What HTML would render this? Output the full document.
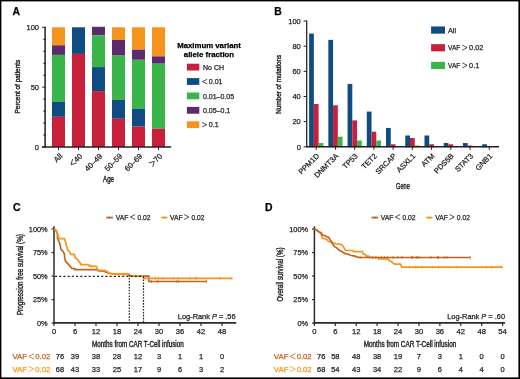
<!DOCTYPE html>
<html><head><meta charset="utf-8"><style>
html,body{margin:0;padding:0;background:#fff;}
body{width:520px;height:379px;overflow:hidden;}
svg{display:block;font-family:"Liberation Sans",sans-serif;will-change:transform;}
</style></head><body>
<svg width="520" height="379" viewBox="0 0 520 379">
<rect x="0" y="0" width="520" height="379" fill="#fff"/>
<text x="12.60" y="14.70" font-size="10.4" text-anchor="start" fill="#000" font-weight="bold" stroke="#000" stroke-width="0.25">A</text>
<rect x="52.00" y="27.30" width="13.00" height="18.00" fill="#F7941E"/>
<rect x="52.00" y="45.30" width="13.00" height="9.60" fill="#5C2A6E"/>
<rect x="52.00" y="54.90" width="13.00" height="47.00" fill="#3AB54A"/>
<rect x="52.00" y="101.90" width="13.00" height="14.90" fill="#0F4C81"/>
<rect x="52.00" y="116.80" width="13.00" height="30.20" fill="#C8203A"/>
<rect x="72.00" y="27.30" width="13.00" height="26.60" fill="#0F4C81"/>
<rect x="72.00" y="53.90" width="13.00" height="93.10" fill="#C8203A"/>
<rect x="92.00" y="26.80" width="13.00" height="8.50" fill="#5C2A6E"/>
<rect x="92.00" y="35.30" width="13.00" height="31.80" fill="#3AB54A"/>
<rect x="92.00" y="67.10" width="13.00" height="24.00" fill="#0F4C81"/>
<rect x="92.00" y="91.10" width="13.00" height="55.90" fill="#C8203A"/>
<rect x="112.00" y="27.30" width="13.00" height="12.70" fill="#F7941E"/>
<rect x="112.00" y="40.00" width="13.00" height="15.60" fill="#5C2A6E"/>
<rect x="112.00" y="55.60" width="13.00" height="44.30" fill="#3AB54A"/>
<rect x="112.00" y="99.90" width="13.00" height="18.90" fill="#0F4C81"/>
<rect x="112.00" y="118.80" width="13.00" height="28.20" fill="#C8203A"/>
<rect x="132.00" y="27.30" width="13.00" height="22.40" fill="#F7941E"/>
<rect x="132.00" y="49.70" width="13.00" height="10.10" fill="#5C2A6E"/>
<rect x="132.00" y="59.80" width="13.00" height="49.00" fill="#3AB54A"/>
<rect x="132.00" y="108.80" width="13.00" height="17.80" fill="#0F4C81"/>
<rect x="132.00" y="126.60" width="13.00" height="20.40" fill="#C8203A"/>
<rect x="152.00" y="27.30" width="13.00" height="29.10" fill="#F7941E"/>
<rect x="152.00" y="56.40" width="13.00" height="7.30" fill="#5C2A6E"/>
<rect x="152.00" y="63.70" width="13.00" height="65.10" fill="#3AB54A"/>
<rect x="152.00" y="128.80" width="13.00" height="18.20" fill="#C8203A"/>
<line x1="45.10" y1="26.80" x2="45.10" y2="147.60" stroke="#231F20" stroke-width="1.5"/>
<line x1="42.00" y1="146.95" x2="171.20" y2="146.95" stroke="#231F20" stroke-width="1.6"/>
<line x1="42.20" y1="147.00" x2="45.20" y2="147.00" stroke="#231F20" stroke-width="1"/>
<line x1="43.20" y1="135.03" x2="45.20" y2="135.03" stroke="#231F20" stroke-width="1"/>
<line x1="43.20" y1="123.06" x2="45.20" y2="123.06" stroke="#231F20" stroke-width="1"/>
<line x1="43.20" y1="111.09" x2="45.20" y2="111.09" stroke="#231F20" stroke-width="1"/>
<line x1="43.20" y1="99.12" x2="45.20" y2="99.12" stroke="#231F20" stroke-width="1"/>
<line x1="42.20" y1="87.15" x2="45.20" y2="87.15" stroke="#231F20" stroke-width="1"/>
<line x1="43.20" y1="75.18" x2="45.20" y2="75.18" stroke="#231F20" stroke-width="1"/>
<line x1="43.20" y1="63.21" x2="45.20" y2="63.21" stroke="#231F20" stroke-width="1"/>
<line x1="43.20" y1="51.24" x2="45.20" y2="51.24" stroke="#231F20" stroke-width="1"/>
<line x1="43.20" y1="39.27" x2="45.20" y2="39.27" stroke="#231F20" stroke-width="1"/>
<line x1="42.20" y1="27.30" x2="45.20" y2="27.30" stroke="#231F20" stroke-width="1"/>
<text x="39.00" y="30.00" font-size="7.5" text-anchor="end" fill="#231F20" stroke="#231F20" stroke-width="0.25">100</text>
<text x="39.00" y="89.85" font-size="7.5" text-anchor="end" fill="#231F20" stroke="#231F20" stroke-width="0.25">50</text>
<text x="39.00" y="149.70" font-size="7.5" text-anchor="end" fill="#231F20" stroke="#231F20" stroke-width="0.25">0</text>
<line x1="58.50" y1="147.00" x2="58.50" y2="150.00" stroke="#231F20" stroke-width="1"/>
<text x="62.90" y="156.60" font-size="7.7" text-anchor="end" fill="#231F20" transform="rotate(-45 62.90 156.60)" stroke="#231F20" stroke-width="0.25">All</text>
<line x1="78.50" y1="147.00" x2="78.50" y2="150.00" stroke="#231F20" stroke-width="1"/>
<text x="82.90" y="156.60" font-size="7.7" text-anchor="end" fill="#231F20" transform="rotate(-45 82.90 156.60)" stroke="#231F20" stroke-width="0.25">40</text>
<g transform="rotate(-45 82.90 156.60)">
<path d="M73.44,151.30 L68.84,153.90 L73.44,156.50" fill="none" stroke="#231F20" stroke-width="0.8" stroke-linejoin="round" stroke-linecap="round"/>
</g>
<line x1="98.50" y1="147.00" x2="98.50" y2="150.00" stroke="#231F20" stroke-width="1"/>
<text x="102.90" y="156.60" font-size="7.7" text-anchor="end" fill="#231F20" transform="rotate(-45 102.90 156.60)" stroke="#231F20" stroke-width="0.25">40–49</text>
<line x1="118.50" y1="147.00" x2="118.50" y2="150.00" stroke="#231F20" stroke-width="1"/>
<text x="122.90" y="156.60" font-size="7.7" text-anchor="end" fill="#231F20" transform="rotate(-45 122.90 156.60)" stroke="#231F20" stroke-width="0.25">50–59</text>
<line x1="138.50" y1="147.00" x2="138.50" y2="150.00" stroke="#231F20" stroke-width="1"/>
<text x="142.90" y="156.60" font-size="7.7" text-anchor="end" fill="#231F20" transform="rotate(-45 142.90 156.60)" stroke="#231F20" stroke-width="0.25">60–69</text>
<line x1="158.50" y1="147.00" x2="158.50" y2="150.00" stroke="#231F20" stroke-width="1"/>
<text x="162.90" y="156.60" font-size="7.7" text-anchor="end" fill="#231F20" transform="rotate(-45 162.90 156.60)" stroke="#231F20" stroke-width="0.25">70</text>
<g transform="rotate(-45 162.90 156.60)">
<path d="M148.84,151.30 L153.44,153.90 L148.84,156.50" fill="none" stroke="#231F20" stroke-width="0.8" stroke-linejoin="round" stroke-linecap="round"/>
</g>
<text x="108.50" y="181.50" font-size="8.6" text-anchor="middle" fill="#231F20" textLength="10.9" lengthAdjust="spacingAndGlyphs" stroke="#231F20" stroke-width="0.4">Age</text>
<text x="20.00" y="86.60" font-size="7.8" text-anchor="middle" fill="#231F20" textLength="53.7" lengthAdjust="spacingAndGlyphs" transform="rotate(-90 20.00 86.60)" stroke="#231F20" stroke-width="0.4">Percent of patients</text>
<text x="209.00" y="48.00" font-size="7.8" text-anchor="middle" fill="#000" font-weight="bold" stroke="#000" stroke-width="0.25">Maximum variant</text>
<text x="209.00" y="56.70" font-size="7.8" text-anchor="middle" fill="#000" font-weight="bold" stroke="#000" stroke-width="0.25">allele fraction</text>
<rect x="186.90" y="63.70" width="12.40" height="6.80" fill="#C8203A"/>
<text x="203.00" y="69.70" font-size="7.0" text-anchor="start" fill="#231F20" stroke="#231F20" stroke-width="0.25">No CH</text>
<rect x="186.90" y="78.10" width="12.40" height="6.80" fill="#0F4C81"/>
<path d="M206.80,79.50 L202.40,81.55 L206.80,83.60" fill="none" stroke="#231F20" stroke-width="0.8" stroke-linejoin="round" stroke-linecap="round"/>
<text x="208.80" y="84.00" font-size="7.0" text-anchor="start" fill="#231F20" stroke="#231F20" stroke-width="0.25">0.01</text>
<rect x="186.90" y="92.50" width="12.40" height="6.80" fill="#3AB54A"/>
<text x="203.00" y="98.50" font-size="7.0" text-anchor="start" fill="#231F20" stroke="#231F20" stroke-width="0.25">0.01–0.05</text>
<rect x="186.90" y="106.90" width="12.40" height="6.80" fill="#5C2A6E"/>
<text x="203.00" y="112.90" font-size="7.0" text-anchor="start" fill="#231F20" stroke="#231F20" stroke-width="0.25">0.05–0.1</text>
<rect x="186.90" y="121.30" width="12.40" height="6.80" fill="#F7941E"/>
<path d="M202.40,122.70 L206.80,124.75 L202.40,126.80" fill="none" stroke="#231F20" stroke-width="0.8" stroke-linejoin="round" stroke-linecap="round"/>
<text x="208.80" y="127.20" font-size="7.0" text-anchor="start" fill="#231F20" stroke="#231F20" stroke-width="0.25">0.1</text>
<text x="274.20" y="14.90" font-size="10.4" text-anchor="start" fill="#000" font-weight="bold" stroke="#000" stroke-width="0.25">B</text>
<rect x="309.10" y="33.58" width="4.75" height="113.62" fill="#0F4C81"/>
<rect x="313.85" y="104.03" width="4.75" height="43.17" fill="#C8203A"/>
<rect x="318.60" y="143.03" width="4.75" height="4.17" fill="#3AB54A"/>
<rect x="328.33" y="39.87" width="4.75" height="107.33" fill="#0F4C81"/>
<rect x="333.08" y="105.29" width="4.75" height="41.91" fill="#C8203A"/>
<rect x="337.83" y="136.74" width="4.75" height="10.46" fill="#3AB54A"/>
<rect x="347.56" y="83.90" width="4.75" height="63.30" fill="#0F4C81"/>
<rect x="352.31" y="120.38" width="4.75" height="26.82" fill="#C8203A"/>
<rect x="357.06" y="140.51" width="4.75" height="6.69" fill="#3AB54A"/>
<rect x="366.79" y="111.58" width="4.75" height="35.62" fill="#0F4C81"/>
<rect x="371.54" y="131.70" width="4.75" height="15.50" fill="#C8203A"/>
<rect x="376.29" y="140.51" width="4.75" height="6.69" fill="#3AB54A"/>
<rect x="386.02" y="127.93" width="4.75" height="19.27" fill="#0F4C81"/>
<rect x="390.77" y="144.28" width="4.75" height="2.92" fill="#C8203A"/>
<rect x="405.25" y="135.48" width="4.75" height="11.72" fill="#0F4C81"/>
<rect x="410.00" y="137.99" width="4.75" height="9.21" fill="#C8203A"/>
<rect x="414.75" y="145.54" width="4.75" height="1.66" fill="#3AB54A"/>
<rect x="424.48" y="135.48" width="4.75" height="11.72" fill="#0F4C81"/>
<rect x="429.23" y="144.28" width="4.75" height="2.92" fill="#C8203A"/>
<rect x="443.71" y="143.03" width="4.75" height="4.17" fill="#0F4C81"/>
<rect x="448.46" y="144.28" width="4.75" height="2.92" fill="#C8203A"/>
<rect x="462.94" y="143.03" width="4.75" height="4.17" fill="#0F4C81"/>
<rect x="467.69" y="145.54" width="4.75" height="1.66" fill="#C8203A"/>
<rect x="482.17" y="144.28" width="4.75" height="2.92" fill="#0F4C81"/>
<line x1="306.70" y1="20.50" x2="306.70" y2="147.30" stroke="#231F20" stroke-width="1.25"/>
<line x1="306.20" y1="146.70" x2="499.00" y2="146.70" stroke="#231F20" stroke-width="1.6"/>
<line x1="303.60" y1="146.80" x2="306.70" y2="146.80" stroke="#231F20" stroke-width="1"/>
<text x="300.80" y="149.50" font-size="7.5" text-anchor="end" fill="#231F20" stroke="#231F20" stroke-width="0.25">0</text>
<line x1="303.60" y1="121.64" x2="306.70" y2="121.64" stroke="#231F20" stroke-width="1"/>
<text x="300.80" y="124.34" font-size="7.5" text-anchor="end" fill="#231F20" stroke="#231F20" stroke-width="0.25">20</text>
<line x1="303.60" y1="96.48" x2="306.70" y2="96.48" stroke="#231F20" stroke-width="1"/>
<text x="300.80" y="99.18" font-size="7.5" text-anchor="end" fill="#231F20" stroke="#231F20" stroke-width="0.25">40</text>
<line x1="303.60" y1="71.32" x2="306.70" y2="71.32" stroke="#231F20" stroke-width="1"/>
<text x="300.80" y="74.02" font-size="7.5" text-anchor="end" fill="#231F20" stroke="#231F20" stroke-width="0.25">60</text>
<line x1="303.60" y1="46.16" x2="306.70" y2="46.16" stroke="#231F20" stroke-width="1"/>
<text x="300.80" y="48.86" font-size="7.5" text-anchor="end" fill="#231F20" stroke="#231F20" stroke-width="0.25">80</text>
<line x1="303.60" y1="21.00" x2="306.70" y2="21.00" stroke="#231F20" stroke-width="1"/>
<text x="300.80" y="23.70" font-size="7.5" text-anchor="end" fill="#231F20" stroke="#231F20" stroke-width="0.25">100</text>
<line x1="316.20" y1="146.80" x2="316.20" y2="149.80" stroke="#231F20" stroke-width="1"/>
<text x="319.80" y="156.50" font-size="7.5" text-anchor="end" fill="#231F20" transform="rotate(-45 319.80 156.50)" stroke="#231F20" stroke-width="0.25">PPM1D</text>
<line x1="335.43" y1="146.80" x2="335.43" y2="149.80" stroke="#231F20" stroke-width="1"/>
<text x="339.03" y="156.50" font-size="7.5" text-anchor="end" fill="#231F20" transform="rotate(-45 339.03 156.50)" stroke="#231F20" stroke-width="0.25">DNMT3A</text>
<line x1="354.66" y1="146.80" x2="354.66" y2="149.80" stroke="#231F20" stroke-width="1"/>
<text x="358.26" y="156.50" font-size="7.5" text-anchor="end" fill="#231F20" transform="rotate(-45 358.26 156.50)" stroke="#231F20" stroke-width="0.25">TP53</text>
<line x1="373.89" y1="146.80" x2="373.89" y2="149.80" stroke="#231F20" stroke-width="1"/>
<text x="377.49" y="156.50" font-size="7.5" text-anchor="end" fill="#231F20" transform="rotate(-45 377.49 156.50)" stroke="#231F20" stroke-width="0.25">TET2</text>
<line x1="393.12" y1="146.80" x2="393.12" y2="149.80" stroke="#231F20" stroke-width="1"/>
<text x="396.72" y="156.50" font-size="7.5" text-anchor="end" fill="#231F20" transform="rotate(-45 396.72 156.50)" stroke="#231F20" stroke-width="0.25">SRCAP</text>
<line x1="412.35" y1="146.80" x2="412.35" y2="149.80" stroke="#231F20" stroke-width="1"/>
<text x="415.95" y="156.50" font-size="7.5" text-anchor="end" fill="#231F20" transform="rotate(-45 415.95 156.50)" stroke="#231F20" stroke-width="0.25">ASXL1</text>
<line x1="431.58" y1="146.80" x2="431.58" y2="149.80" stroke="#231F20" stroke-width="1"/>
<text x="435.18" y="156.50" font-size="7.5" text-anchor="end" fill="#231F20" transform="rotate(-45 435.18 156.50)" stroke="#231F20" stroke-width="0.25">ATM</text>
<line x1="450.81" y1="146.80" x2="450.81" y2="149.80" stroke="#231F20" stroke-width="1"/>
<text x="454.41" y="156.50" font-size="7.5" text-anchor="end" fill="#231F20" transform="rotate(-45 454.41 156.50)" stroke="#231F20" stroke-width="0.25">PDS5B</text>
<line x1="470.04" y1="146.80" x2="470.04" y2="149.80" stroke="#231F20" stroke-width="1"/>
<text x="473.64" y="156.50" font-size="7.5" text-anchor="end" fill="#231F20" transform="rotate(-45 473.64 156.50)" stroke="#231F20" stroke-width="0.25">STAT3</text>
<line x1="489.27" y1="146.80" x2="489.27" y2="149.80" stroke="#231F20" stroke-width="1"/>
<text x="492.87" y="156.50" font-size="7.5" text-anchor="end" fill="#231F20" transform="rotate(-45 492.87 156.50)" stroke="#231F20" stroke-width="0.25">GNB1</text>
<text x="402.90" y="189.40" font-size="8.6" text-anchor="middle" fill="#231F20" textLength="13.8" lengthAdjust="spacingAndGlyphs" stroke="#231F20" stroke-width="0.4">Gene</text>
<text x="280.90" y="84.30" font-size="7.8" text-anchor="middle" fill="#231F20" textLength="59" lengthAdjust="spacingAndGlyphs" transform="rotate(-90 280.90 84.30)" stroke="#231F20" stroke-width="0.4">Number of mutations</text>
<rect x="431.10" y="26.45" width="13.90" height="7.20" fill="#0F4C81"/>
<text x="448.00" y="32.75" font-size="7.3" text-anchor="start" fill="#231F20" stroke="#231F20" stroke-width="0.25">All</text>
<rect x="431.10" y="44.15" width="13.90" height="7.20" fill="#C8203A"/>
<text x="448.00" y="50.45" font-size="7.3" text-anchor="start" fill="#231F20" textLength="12.3" lengthAdjust="spacingAndGlyphs" stroke="#231F20" stroke-width="0.25">VAF</text>
<path d="M462.60,45.25 L467.00,47.65 L462.60,50.05" fill="none" stroke="#231F20" stroke-width="0.8" stroke-linejoin="round" stroke-linecap="round"/>
<text x="469.10" y="50.45" font-size="7.3" text-anchor="start" fill="#231F20" stroke="#231F20" stroke-width="0.25">0.02</text>
<rect x="431.10" y="61.85" width="13.90" height="7.20" fill="#3AB54A"/>
<text x="448.00" y="68.15" font-size="7.3" text-anchor="start" fill="#231F20" textLength="12.3" lengthAdjust="spacingAndGlyphs" stroke="#231F20" stroke-width="0.25">VAF</text>
<path d="M462.60,62.95 L467.00,65.35 L462.60,67.75" fill="none" stroke="#231F20" stroke-width="0.8" stroke-linejoin="round" stroke-linecap="round"/>
<text x="469.10" y="68.15" font-size="7.3" text-anchor="start" fill="#231F20" stroke="#231F20" stroke-width="0.25">0.1</text>
<text x="12.90" y="211.30" font-size="10.4" text-anchor="start" fill="#000" font-weight="bold" stroke="#000" stroke-width="0.25">C</text>
<line x1="54.00" y1="226.30" x2="54.00" y2="323.60" stroke="#2a2a2a" stroke-width="1.5"/>
<line x1="53.40" y1="322.80" x2="236.20" y2="322.80" stroke="#2a2a2a" stroke-width="1.8"/>
<line x1="51.60" y1="229.00" x2="54.00" y2="229.00" stroke="#2a2a2a" stroke-width="1.2"/>
<text x="47.70" y="231.60" font-size="7.4" text-anchor="end" fill="#231F20" stroke="#231F20" stroke-width="0.25">100%</text>
<line x1="51.60" y1="252.53" x2="54.00" y2="252.53" stroke="#2a2a2a" stroke-width="1.2"/>
<text x="47.70" y="255.12" font-size="7.4" text-anchor="end" fill="#231F20" stroke="#231F20" stroke-width="0.25">75%</text>
<line x1="51.60" y1="276.05" x2="54.00" y2="276.05" stroke="#2a2a2a" stroke-width="1.2"/>
<text x="47.70" y="278.65" font-size="7.4" text-anchor="end" fill="#231F20" stroke="#231F20" stroke-width="0.25">50%</text>
<line x1="51.60" y1="299.58" x2="54.00" y2="299.58" stroke="#2a2a2a" stroke-width="1.2"/>
<text x="47.70" y="302.18" font-size="7.4" text-anchor="end" fill="#231F20" stroke="#231F20" stroke-width="0.25">25%</text>
<line x1="51.60" y1="323.10" x2="54.00" y2="323.10" stroke="#2a2a2a" stroke-width="1.2"/>
<text x="47.70" y="325.70" font-size="7.4" text-anchor="end" fill="#231F20" stroke="#231F20" stroke-width="0.25">0%</text>
<line x1="54.00" y1="323.10" x2="54.00" y2="326.00" stroke="#2a2a2a" stroke-width="1.2"/>
<text x="54.00" y="334.40" font-size="7.6" text-anchor="middle" fill="#231F20" stroke="#231F20" stroke-width="0.25">0</text>
<line x1="75.00" y1="323.10" x2="75.00" y2="326.00" stroke="#2a2a2a" stroke-width="1.2"/>
<text x="75.00" y="334.40" font-size="7.6" text-anchor="middle" fill="#231F20" stroke="#231F20" stroke-width="0.25">6</text>
<line x1="96.00" y1="323.10" x2="96.00" y2="326.00" stroke="#2a2a2a" stroke-width="1.2"/>
<text x="96.00" y="334.40" font-size="7.6" text-anchor="middle" fill="#231F20" stroke="#231F20" stroke-width="0.25">12</text>
<line x1="117.00" y1="323.10" x2="117.00" y2="326.00" stroke="#2a2a2a" stroke-width="1.2"/>
<text x="117.00" y="334.40" font-size="7.6" text-anchor="middle" fill="#231F20" stroke="#231F20" stroke-width="0.25">18</text>
<line x1="138.00" y1="323.10" x2="138.00" y2="326.00" stroke="#2a2a2a" stroke-width="1.2"/>
<text x="138.00" y="334.40" font-size="7.6" text-anchor="middle" fill="#231F20" stroke="#231F20" stroke-width="0.25">24</text>
<line x1="159.00" y1="323.10" x2="159.00" y2="326.00" stroke="#2a2a2a" stroke-width="1.2"/>
<text x="159.00" y="334.40" font-size="7.6" text-anchor="middle" fill="#231F20" stroke="#231F20" stroke-width="0.25">30</text>
<line x1="180.00" y1="323.10" x2="180.00" y2="326.00" stroke="#2a2a2a" stroke-width="1.2"/>
<text x="180.00" y="334.40" font-size="7.6" text-anchor="middle" fill="#231F20" stroke="#231F20" stroke-width="0.25">36</text>
<line x1="201.00" y1="323.10" x2="201.00" y2="326.00" stroke="#2a2a2a" stroke-width="1.2"/>
<text x="201.00" y="334.40" font-size="7.6" text-anchor="middle" fill="#231F20" stroke="#231F20" stroke-width="0.25">42</text>
<line x1="222.00" y1="323.10" x2="222.00" y2="326.00" stroke="#2a2a2a" stroke-width="1.2"/>
<text x="222.00" y="334.40" font-size="7.6" text-anchor="middle" fill="#231F20" stroke="#231F20" stroke-width="0.25">48</text>
<text x="22.60" y="274.60" font-size="8.5" text-anchor="middle" fill="#231F20" textLength="81" lengthAdjust="spacingAndGlyphs" transform="rotate(-90 22.60 274.60)" stroke="#231F20" stroke-width="0.4">Progression free survival (%)</text>
<text x="92.10" y="346.50" font-size="8.4" text-anchor="start" fill="#231F20" textLength="91.7" lengthAdjust="spacingAndGlyphs" stroke="#231F20" stroke-width="0.4">Months from CAR T-Cell infusion</text>
<text x="235.60" y="319.00" font-size="7.4" text-anchor="end" fill="#231F20" stroke="#231F20" stroke-width="0.25">Log-Rank <tspan font-style="italic">P</tspan> = .56</text>
<line x1="106.30" y1="217.60" x2="112.90" y2="217.60" stroke="#C0651E" stroke-width="1.8"/>
<line x1="109.60" y1="216.40" x2="109.60" y2="218.80" stroke="#C0651E" stroke-width="0.8"/>
<text x="115.80" y="219.60" font-size="7.3" text-anchor="start" fill="#231F20" textLength="12.7" lengthAdjust="spacingAndGlyphs" stroke="#231F20" stroke-width="0.25">VAF</text>
<path d="M134.80,214.70 L130.40,217.00 L134.80,219.30" fill="none" stroke="#231F20" stroke-width="0.8" stroke-linejoin="round" stroke-linecap="round"/>
<text x="137.40" y="219.60" font-size="7.3" text-anchor="start" fill="#231F20" textLength="13.1" lengthAdjust="spacingAndGlyphs" stroke="#231F20" stroke-width="0.25">0.02</text>
<line x1="161.20" y1="217.60" x2="167.40" y2="217.60" stroke="#F7941E" stroke-width="1.8"/>
<line x1="164.30" y1="216.40" x2="164.30" y2="218.80" stroke="#F7941E" stroke-width="0.8"/>
<text x="169.90" y="219.60" font-size="7.3" text-anchor="start" fill="#231F20" textLength="12.7" lengthAdjust="spacingAndGlyphs" stroke="#231F20" stroke-width="0.25">VAF</text>
<path d="M184.50,214.70 L188.90,217.00 L184.50,219.30" fill="none" stroke="#231F20" stroke-width="0.8" stroke-linejoin="round" stroke-linecap="round"/>
<text x="191.50" y="219.60" font-size="7.3" text-anchor="start" fill="#231F20" textLength="13.1" lengthAdjust="spacingAndGlyphs" stroke="#231F20" stroke-width="0.25">0.02</text>
<path d="M54.00,229.00 L56.80,231.50 L57.50,233.90 L57.50,237.90 L58.30,240.30 L59.10,241.80 L59.90,243.80 L60.30,245.80 L60.70,248.20 L61.10,249.40 L62.30,250.50 L63.50,252.10 L64.30,253.70 L64.80,258.70 L65.50,261.10 L67.10,263.10 L68.70,264.60 L70.30,266.60 L71.90,268.20 L74.60,268.90 L75.80,269.60 L96.80,269.60 L98.00,270.60 L99.60,271.00 L104.00,271.20 L108.00,273.00 L114.00,274.00 L129.00,274.40 L131.00,276.10 L148.80,276.10 L148.80,281.50 L206.60,281.50" fill="none" stroke="#C0651E" stroke-width="1.7" stroke-linejoin="miter"/>
<line x1="151.50" y1="280.10" x2="151.50" y2="282.90" stroke="#C0651E" stroke-width="0.8"/>
<line x1="157.70" y1="280.10" x2="157.70" y2="282.90" stroke="#C0651E" stroke-width="0.8"/>
<line x1="176.70" y1="280.10" x2="176.70" y2="282.90" stroke="#C0651E" stroke-width="0.8"/>
<line x1="178.70" y1="280.10" x2="178.70" y2="282.90" stroke="#C0651E" stroke-width="0.8"/>
<line x1="206.40" y1="280.10" x2="206.40" y2="282.90" stroke="#C0651E" stroke-width="0.8"/>
<line x1="74.40" y1="267.80" x2="74.40" y2="270.60" stroke="#C0651E" stroke-width="0.8"/>
<path d="M54.00,229.00 L55.50,229.50 L56.40,230.80 L57.00,232.50 L57.50,234.00 L58.30,236.30 L59.10,238.70 L64.30,238.70 L65.10,240.60 L65.90,243.00 L66.30,245.00 L67.00,247.40 L67.80,249.80 L69.00,251.30 L70.30,253.60 L71.10,254.40 L74.30,254.40 L75.00,256.30 L75.40,258.30 L77.00,258.70 L78.20,260.30 L79.00,261.90 L80.20,262.70 L81.00,264.60 L88.50,264.60 L89.30,266.20 L96.40,266.40 L97.20,269.00 L98.60,270.40 L104.50,270.40 L105.30,270.80 L107.70,271.60 L108.50,273.40 L114.00,273.80 L129.00,274.40 L131.40,276.20 L143.60,276.20 L143.60,278.30 L232.20,278.30" fill="none" stroke="#F7941E" stroke-width="1.7" stroke-linejoin="miter"/>
<line x1="90.50" y1="264.80" x2="90.50" y2="267.60" stroke="#F7941E" stroke-width="0.8"/>
<line x1="92.00" y1="264.80" x2="92.00" y2="267.60" stroke="#F7941E" stroke-width="0.8"/>
<line x1="155.40" y1="276.90" x2="155.40" y2="279.70" stroke="#F7941E" stroke-width="0.8"/>
<line x1="158.50" y1="276.90" x2="158.50" y2="279.70" stroke="#F7941E" stroke-width="0.8"/>
<line x1="162.70" y1="276.90" x2="162.70" y2="279.70" stroke="#F7941E" stroke-width="0.8"/>
<line x1="173.50" y1="276.90" x2="173.50" y2="279.70" stroke="#F7941E" stroke-width="0.8"/>
<line x1="178.30" y1="276.90" x2="178.30" y2="279.70" stroke="#F7941E" stroke-width="0.8"/>
<line x1="190.20" y1="276.90" x2="190.20" y2="279.70" stroke="#F7941E" stroke-width="0.8"/>
<line x1="195.60" y1="276.90" x2="195.60" y2="279.70" stroke="#F7941E" stroke-width="0.8"/>
<line x1="196.90" y1="276.90" x2="196.90" y2="279.70" stroke="#F7941E" stroke-width="0.8"/>
<line x1="219.80" y1="276.90" x2="219.80" y2="279.70" stroke="#F7941E" stroke-width="0.8"/>
<line x1="232.00" y1="276.90" x2="232.00" y2="279.70" stroke="#F7941E" stroke-width="0.8"/>
<line x1="117.00" y1="272.70" x2="117.00" y2="275.50" stroke="#F7941E" stroke-width="0.8"/>
<line x1="120.00" y1="272.70" x2="120.00" y2="275.50" stroke="#F7941E" stroke-width="0.8"/>
<line x1="122.50" y1="272.70" x2="122.50" y2="275.50" stroke="#F7941E" stroke-width="0.8"/>
<line x1="125.00" y1="272.70" x2="125.00" y2="275.50" stroke="#F7941E" stroke-width="0.8"/>
<line x1="127.00" y1="272.70" x2="127.00" y2="275.50" stroke="#F7941E" stroke-width="0.8"/>
<path d="M54,276.3 H143.6" stroke="#222" stroke-width="1.2" stroke-dasharray="2.1 2.1" stroke-dashoffset="-1" fill="none"/>
<path d="M129.3,275 V322.5 M143.5,276.5 V322.5" stroke="#222" stroke-width="1.2" stroke-dasharray="1.6 1.35" fill="none"/>
<text x="265.10" y="210.90" font-size="10.4" text-anchor="start" fill="#000" font-weight="bold" stroke="#000" stroke-width="0.25">D</text>
<line x1="314.40" y1="226.30" x2="314.40" y2="323.60" stroke="#2a2a2a" stroke-width="1.5"/>
<line x1="313.80" y1="322.80" x2="505.00" y2="322.80" stroke="#2a2a2a" stroke-width="1.8"/>
<line x1="312.00" y1="229.00" x2="314.40" y2="229.00" stroke="#2a2a2a" stroke-width="1.2"/>
<text x="308.10" y="231.60" font-size="7.4" text-anchor="end" fill="#231F20" stroke="#231F20" stroke-width="0.25">100%</text>
<line x1="312.00" y1="252.53" x2="314.40" y2="252.53" stroke="#2a2a2a" stroke-width="1.2"/>
<text x="308.10" y="255.12" font-size="7.4" text-anchor="end" fill="#231F20" stroke="#231F20" stroke-width="0.25">75%</text>
<line x1="312.00" y1="276.05" x2="314.40" y2="276.05" stroke="#2a2a2a" stroke-width="1.2"/>
<text x="308.10" y="278.65" font-size="7.4" text-anchor="end" fill="#231F20" stroke="#231F20" stroke-width="0.25">50%</text>
<line x1="312.00" y1="299.58" x2="314.40" y2="299.58" stroke="#2a2a2a" stroke-width="1.2"/>
<text x="308.10" y="302.18" font-size="7.4" text-anchor="end" fill="#231F20" stroke="#231F20" stroke-width="0.25">25%</text>
<line x1="312.00" y1="323.10" x2="314.40" y2="323.10" stroke="#2a2a2a" stroke-width="1.2"/>
<text x="308.10" y="325.70" font-size="7.4" text-anchor="end" fill="#231F20" stroke="#231F20" stroke-width="0.25">0%</text>
<line x1="314.40" y1="323.10" x2="314.40" y2="326.00" stroke="#2a2a2a" stroke-width="1.2"/>
<text x="314.40" y="334.40" font-size="7.6" text-anchor="middle" fill="#231F20" stroke="#231F20" stroke-width="0.25">0</text>
<line x1="335.31" y1="323.10" x2="335.31" y2="326.00" stroke="#2a2a2a" stroke-width="1.2"/>
<text x="335.31" y="334.40" font-size="7.6" text-anchor="middle" fill="#231F20" stroke="#231F20" stroke-width="0.25">6</text>
<line x1="356.22" y1="323.10" x2="356.22" y2="326.00" stroke="#2a2a2a" stroke-width="1.2"/>
<text x="356.22" y="334.40" font-size="7.6" text-anchor="middle" fill="#231F20" stroke="#231F20" stroke-width="0.25">12</text>
<line x1="377.13" y1="323.10" x2="377.13" y2="326.00" stroke="#2a2a2a" stroke-width="1.2"/>
<text x="377.13" y="334.40" font-size="7.6" text-anchor="middle" fill="#231F20" stroke="#231F20" stroke-width="0.25">18</text>
<line x1="398.04" y1="323.10" x2="398.04" y2="326.00" stroke="#2a2a2a" stroke-width="1.2"/>
<text x="398.04" y="334.40" font-size="7.6" text-anchor="middle" fill="#231F20" stroke="#231F20" stroke-width="0.25">24</text>
<line x1="418.95" y1="323.10" x2="418.95" y2="326.00" stroke="#2a2a2a" stroke-width="1.2"/>
<text x="418.95" y="334.40" font-size="7.6" text-anchor="middle" fill="#231F20" stroke="#231F20" stroke-width="0.25">30</text>
<line x1="439.86" y1="323.10" x2="439.86" y2="326.00" stroke="#2a2a2a" stroke-width="1.2"/>
<text x="439.86" y="334.40" font-size="7.6" text-anchor="middle" fill="#231F20" stroke="#231F20" stroke-width="0.25">36</text>
<line x1="460.77" y1="323.10" x2="460.77" y2="326.00" stroke="#2a2a2a" stroke-width="1.2"/>
<text x="460.77" y="334.40" font-size="7.6" text-anchor="middle" fill="#231F20" stroke="#231F20" stroke-width="0.25">42</text>
<line x1="481.68" y1="323.10" x2="481.68" y2="326.00" stroke="#2a2a2a" stroke-width="1.2"/>
<text x="481.68" y="334.40" font-size="7.6" text-anchor="middle" fill="#231F20" stroke="#231F20" stroke-width="0.25">48</text>
<line x1="502.59" y1="323.10" x2="502.59" y2="326.00" stroke="#2a2a2a" stroke-width="1.2"/>
<text x="502.59" y="334.40" font-size="7.6" text-anchor="middle" fill="#231F20" stroke="#231F20" stroke-width="0.25">54</text>
<text x="283.00" y="274.50" font-size="8.5" text-anchor="middle" fill="#231F20" textLength="54" lengthAdjust="spacingAndGlyphs" transform="rotate(-90 283.00 274.50)" stroke="#231F20" stroke-width="0.4">Overall survival (%)</text>
<text x="363.75" y="346.50" font-size="8.4" text-anchor="start" fill="#231F20" textLength="92.5" lengthAdjust="spacingAndGlyphs" stroke="#231F20" stroke-width="0.4">Months from CAR T-Cell infusion</text>
<text x="505.00" y="319.30" font-size="7.4" text-anchor="end" fill="#231F20" stroke="#231F20" stroke-width="0.25">Log-Rank <tspan font-style="italic">P</tspan> = .60</text>
<line x1="371.50" y1="217.60" x2="378.10" y2="217.60" stroke="#C0651E" stroke-width="1.8"/>
<line x1="374.80" y1="216.40" x2="374.80" y2="218.80" stroke="#C0651E" stroke-width="0.8"/>
<text x="380.80" y="219.60" font-size="7.3" text-anchor="start" fill="#231F20" textLength="12.7" lengthAdjust="spacingAndGlyphs" stroke="#231F20" stroke-width="0.25">VAF</text>
<path d="M399.80,214.70 L395.40,217.00 L399.80,219.30" fill="none" stroke="#231F20" stroke-width="0.8" stroke-linejoin="round" stroke-linecap="round"/>
<text x="402.40" y="219.60" font-size="7.3" text-anchor="start" fill="#231F20" textLength="13.1" lengthAdjust="spacingAndGlyphs" stroke="#231F20" stroke-width="0.25">0.02</text>
<line x1="426.30" y1="217.60" x2="432.50" y2="217.60" stroke="#F7941E" stroke-width="1.8"/>
<line x1="429.40" y1="216.40" x2="429.40" y2="218.80" stroke="#F7941E" stroke-width="0.8"/>
<text x="435.20" y="219.60" font-size="7.3" text-anchor="start" fill="#231F20" textLength="12.7" lengthAdjust="spacingAndGlyphs" stroke="#231F20" stroke-width="0.25">VAF</text>
<path d="M449.80,214.70 L454.20,217.00 L449.80,219.30" fill="none" stroke="#231F20" stroke-width="0.8" stroke-linejoin="round" stroke-linecap="round"/>
<text x="456.80" y="219.60" font-size="7.3" text-anchor="start" fill="#231F20" textLength="13.1" lengthAdjust="spacingAndGlyphs" stroke="#231F20" stroke-width="0.25">0.02</text>
<path d="M314.40,228.80 L316.80,230.30 L318.70,231.70 L320.60,233.20 L321.60,235.60 L322.60,238.50 L326.40,239.00 L327.90,240.90 L329.30,241.80 L331.20,242.30 L333.20,242.80 L336.00,243.80 L339.90,244.20 L341.80,244.70 L343.70,247.10 L345.20,250.00 L348.50,250.50 L352.40,250.50 L353.80,251.60 L362.50,251.60 L363.10,253.80 L365.40,254.40 L366.00,256.10 L368.80,256.10 L369.40,257.30 L378.10,257.50 L378.60,259.00 L388.40,259.00 L389.60,260.80 L391.90,261.90 L394.20,264.20 L400.60,264.20 L401.70,267.10 L502.70,267.10" fill="none" stroke="#F7941E" stroke-width="1.7" stroke-linejoin="miter"/>
<line x1="409.60" y1="265.70" x2="409.60" y2="268.50" stroke="#F7941E" stroke-width="0.8"/>
<line x1="415.40" y1="265.70" x2="415.40" y2="268.50" stroke="#F7941E" stroke-width="0.8"/>
<line x1="417.30" y1="265.70" x2="417.30" y2="268.50" stroke="#F7941E" stroke-width="0.8"/>
<line x1="422.10" y1="265.70" x2="422.10" y2="268.50" stroke="#F7941E" stroke-width="0.8"/>
<line x1="432.70" y1="265.70" x2="432.70" y2="268.50" stroke="#F7941E" stroke-width="0.8"/>
<line x1="438.50" y1="265.70" x2="438.50" y2="268.50" stroke="#F7941E" stroke-width="0.8"/>
<line x1="449.00" y1="265.70" x2="449.00" y2="268.50" stroke="#F7941E" stroke-width="0.8"/>
<line x1="456.70" y1="265.70" x2="456.70" y2="268.50" stroke="#F7941E" stroke-width="0.8"/>
<line x1="486.50" y1="265.70" x2="486.50" y2="268.50" stroke="#F7941E" stroke-width="0.8"/>
<line x1="491.50" y1="265.70" x2="491.50" y2="268.50" stroke="#F7941E" stroke-width="0.8"/>
<line x1="501.50" y1="265.70" x2="501.50" y2="268.50" stroke="#F7941E" stroke-width="0.8"/>
<path d="M314.40,228.80 L316.80,230.30 L318.70,231.70 L321.10,232.70 L322.60,235.10 L324.50,235.60 L326.40,236.50 L328.80,237.50 L329.80,239.40 L331.20,241.30 L332.70,244.20 L334.60,246.60 L337.00,248.10 L338.90,250.00 L341.80,251.40 L344.70,253.40 L348.10,254.30 L350.50,255.30 L353.30,255.80 L355.00,256.10 L357.30,257.10 L359.60,257.50 L470.20,257.50" fill="none" stroke="#C0651E" stroke-width="1.7" stroke-linejoin="miter"/>
<line x1="360.20" y1="256.10" x2="360.20" y2="258.90" stroke="#C0651E" stroke-width="0.8"/>
<line x1="372.30" y1="256.10" x2="372.30" y2="258.90" stroke="#C0651E" stroke-width="0.8"/>
<line x1="375.80" y1="256.10" x2="375.80" y2="258.90" stroke="#C0651E" stroke-width="0.8"/>
<line x1="381.50" y1="256.10" x2="381.50" y2="258.90" stroke="#C0651E" stroke-width="0.8"/>
<line x1="384.40" y1="256.10" x2="384.40" y2="258.90" stroke="#C0651E" stroke-width="0.8"/>
<line x1="387.30" y1="256.10" x2="387.30" y2="258.90" stroke="#C0651E" stroke-width="0.8"/>
<line x1="393.10" y1="256.10" x2="393.10" y2="258.90" stroke="#C0651E" stroke-width="0.8"/>
<line x1="397.70" y1="256.10" x2="397.70" y2="258.90" stroke="#C0651E" stroke-width="0.8"/>
<line x1="401.90" y1="256.10" x2="401.90" y2="258.90" stroke="#C0651E" stroke-width="0.8"/>
<line x1="411.50" y1="256.10" x2="411.50" y2="258.90" stroke="#C0651E" stroke-width="0.8"/>
<line x1="412.50" y1="256.10" x2="412.50" y2="258.90" stroke="#C0651E" stroke-width="0.8"/>
<line x1="416.30" y1="256.10" x2="416.30" y2="258.90" stroke="#C0651E" stroke-width="0.8"/>
<line x1="417.30" y1="256.10" x2="417.30" y2="258.90" stroke="#C0651E" stroke-width="0.8"/>
<line x1="419.20" y1="256.10" x2="419.20" y2="258.90" stroke="#C0651E" stroke-width="0.8"/>
<line x1="430.80" y1="256.10" x2="430.80" y2="258.90" stroke="#C0651E" stroke-width="0.8"/>
<line x1="437.50" y1="256.10" x2="437.50" y2="258.90" stroke="#C0651E" stroke-width="0.8"/>
<line x1="438.50" y1="256.10" x2="438.50" y2="258.90" stroke="#C0651E" stroke-width="0.8"/>
<line x1="444.20" y1="256.10" x2="444.20" y2="258.90" stroke="#C0651E" stroke-width="0.8"/>
<line x1="447.10" y1="256.10" x2="447.10" y2="258.90" stroke="#C0651E" stroke-width="0.8"/>
<line x1="470.20" y1="256.10" x2="470.20" y2="258.90" stroke="#C0651E" stroke-width="0.8"/>
<text x="12.40" y="359.20" font-size="7.6" text-anchor="start" fill="#C0651E" textLength="14.8" lengthAdjust="spacingAndGlyphs" stroke="#C0651E" stroke-width="0.25">VAF</text>
<path d="M33.80,353.80 L28.70,356.35 L33.80,358.90" fill="none" stroke="#C0651E" stroke-width="0.8" stroke-linejoin="round" stroke-linecap="round"/>
<text x="35.30" y="359.20" font-size="7.6" text-anchor="start" fill="#C0651E" textLength="15.0" lengthAdjust="spacingAndGlyphs" stroke="#C0651E" stroke-width="0.25">0.02</text>
<text x="60.00" y="359.20" font-size="7.5" text-anchor="middle" fill="#231F20" stroke="#231F20" stroke-width="0.25">76</text>
<text x="75.00" y="359.20" font-size="7.5" text-anchor="middle" fill="#231F20" stroke="#231F20" stroke-width="0.25">39</text>
<text x="96.00" y="359.20" font-size="7.5" text-anchor="middle" fill="#231F20" stroke="#231F20" stroke-width="0.25">38</text>
<text x="117.00" y="359.20" font-size="7.5" text-anchor="middle" fill="#231F20" stroke="#231F20" stroke-width="0.25">28</text>
<text x="138.00" y="359.20" font-size="7.5" text-anchor="middle" fill="#231F20" stroke="#231F20" stroke-width="0.25">12</text>
<text x="159.00" y="359.20" font-size="7.5" text-anchor="middle" fill="#231F20" stroke="#231F20" stroke-width="0.25">3</text>
<text x="180.00" y="359.20" font-size="7.5" text-anchor="middle" fill="#231F20" stroke="#231F20" stroke-width="0.25">1</text>
<text x="201.00" y="359.20" font-size="7.5" text-anchor="middle" fill="#231F20" stroke="#231F20" stroke-width="0.25">1</text>
<text x="222.00" y="359.20" font-size="7.5" text-anchor="middle" fill="#231F20" stroke="#231F20" stroke-width="0.25">0</text>
<text x="12.40" y="371.90" font-size="7.6" text-anchor="start" fill="#F7941E" textLength="14.8" lengthAdjust="spacingAndGlyphs" stroke="#F7941E" stroke-width="0.25">VAF</text>
<path d="M28.70,366.50 L33.80,369.05 L28.70,371.60" fill="none" stroke="#F7941E" stroke-width="0.8" stroke-linejoin="round" stroke-linecap="round"/>
<text x="35.30" y="371.90" font-size="7.6" text-anchor="start" fill="#F7941E" textLength="15.0" lengthAdjust="spacingAndGlyphs" stroke="#F7941E" stroke-width="0.25">0.02</text>
<text x="60.00" y="371.90" font-size="7.5" text-anchor="middle" fill="#231F20" stroke="#231F20" stroke-width="0.25">68</text>
<text x="75.00" y="371.90" font-size="7.5" text-anchor="middle" fill="#231F20" stroke="#231F20" stroke-width="0.25">43</text>
<text x="96.00" y="371.90" font-size="7.5" text-anchor="middle" fill="#231F20" stroke="#231F20" stroke-width="0.25">33</text>
<text x="117.00" y="371.90" font-size="7.5" text-anchor="middle" fill="#231F20" stroke="#231F20" stroke-width="0.25">25</text>
<text x="138.00" y="371.90" font-size="7.5" text-anchor="middle" fill="#231F20" stroke="#231F20" stroke-width="0.25">17</text>
<text x="159.00" y="371.90" font-size="7.5" text-anchor="middle" fill="#231F20" stroke="#231F20" stroke-width="0.25">9</text>
<text x="180.00" y="371.90" font-size="7.5" text-anchor="middle" fill="#231F20" stroke="#231F20" stroke-width="0.25">6</text>
<text x="201.00" y="371.90" font-size="7.5" text-anchor="middle" fill="#231F20" stroke="#231F20" stroke-width="0.25">3</text>
<text x="222.00" y="371.90" font-size="7.5" text-anchor="middle" fill="#231F20" stroke="#231F20" stroke-width="0.25">2</text>
<text x="273.75" y="359.20" font-size="7.6" text-anchor="start" fill="#C0651E" textLength="14.8" lengthAdjust="spacingAndGlyphs" stroke="#C0651E" stroke-width="0.25">VAF</text>
<path d="M295.15,353.80 L290.05,356.35 L295.15,358.90" fill="none" stroke="#C0651E" stroke-width="0.8" stroke-linejoin="round" stroke-linecap="round"/>
<text x="296.65" y="359.20" font-size="7.6" text-anchor="start" fill="#C0651E" textLength="15.0" lengthAdjust="spacingAndGlyphs" stroke="#C0651E" stroke-width="0.25">0.02</text>
<text x="321.20" y="359.20" font-size="7.5" text-anchor="middle" fill="#231F20" stroke="#231F20" stroke-width="0.25">76</text>
<text x="335.31" y="359.20" font-size="7.5" text-anchor="middle" fill="#231F20" stroke="#231F20" stroke-width="0.25">58</text>
<text x="356.22" y="359.20" font-size="7.5" text-anchor="middle" fill="#231F20" stroke="#231F20" stroke-width="0.25">48</text>
<text x="377.13" y="359.20" font-size="7.5" text-anchor="middle" fill="#231F20" stroke="#231F20" stroke-width="0.25">38</text>
<text x="398.04" y="359.20" font-size="7.5" text-anchor="middle" fill="#231F20" stroke="#231F20" stroke-width="0.25">19</text>
<text x="418.95" y="359.20" font-size="7.5" text-anchor="middle" fill="#231F20" stroke="#231F20" stroke-width="0.25">7</text>
<text x="439.86" y="359.20" font-size="7.5" text-anchor="middle" fill="#231F20" stroke="#231F20" stroke-width="0.25">3</text>
<text x="460.77" y="359.20" font-size="7.5" text-anchor="middle" fill="#231F20" stroke="#231F20" stroke-width="0.25">1</text>
<text x="481.68" y="359.20" font-size="7.5" text-anchor="middle" fill="#231F20" stroke="#231F20" stroke-width="0.25">0</text>
<text x="502.59" y="359.20" font-size="7.5" text-anchor="middle" fill="#231F20" stroke="#231F20" stroke-width="0.25">0</text>
<text x="273.75" y="371.90" font-size="7.6" text-anchor="start" fill="#F7941E" textLength="14.8" lengthAdjust="spacingAndGlyphs" stroke="#F7941E" stroke-width="0.25">VAF</text>
<path d="M290.05,366.50 L295.15,369.05 L290.05,371.60" fill="none" stroke="#F7941E" stroke-width="0.8" stroke-linejoin="round" stroke-linecap="round"/>
<text x="296.65" y="371.90" font-size="7.6" text-anchor="start" fill="#F7941E" textLength="15.0" lengthAdjust="spacingAndGlyphs" stroke="#F7941E" stroke-width="0.25">0.02</text>
<text x="321.20" y="371.90" font-size="7.5" text-anchor="middle" fill="#231F20" stroke="#231F20" stroke-width="0.25">68</text>
<text x="335.31" y="371.90" font-size="7.5" text-anchor="middle" fill="#231F20" stroke="#231F20" stroke-width="0.25">54</text>
<text x="356.22" y="371.90" font-size="7.5" text-anchor="middle" fill="#231F20" stroke="#231F20" stroke-width="0.25">43</text>
<text x="377.13" y="371.90" font-size="7.5" text-anchor="middle" fill="#231F20" stroke="#231F20" stroke-width="0.25">34</text>
<text x="398.04" y="371.90" font-size="7.5" text-anchor="middle" fill="#231F20" stroke="#231F20" stroke-width="0.25">22</text>
<text x="418.95" y="371.90" font-size="7.5" text-anchor="middle" fill="#231F20" stroke="#231F20" stroke-width="0.25">9</text>
<text x="439.86" y="371.90" font-size="7.5" text-anchor="middle" fill="#231F20" stroke="#231F20" stroke-width="0.25">6</text>
<text x="460.77" y="371.90" font-size="7.5" text-anchor="middle" fill="#231F20" stroke="#231F20" stroke-width="0.25">4</text>
<text x="481.68" y="371.90" font-size="7.5" text-anchor="middle" fill="#231F20" stroke="#231F20" stroke-width="0.25">4</text>
<text x="502.59" y="371.90" font-size="7.5" text-anchor="middle" fill="#231F20" stroke="#231F20" stroke-width="0.25">0</text>
<rect x="0" y="0" width="1.4" height="379" fill="#000"/>
<rect x="0" y="0" width="520" height="1.4" fill="#000"/>
<rect x="518.4" y="0" width="1.6" height="379" fill="#000"/>
<rect x="0" y="377.4" width="520" height="1.6" fill="#000"/>
</svg>
</body></html>
